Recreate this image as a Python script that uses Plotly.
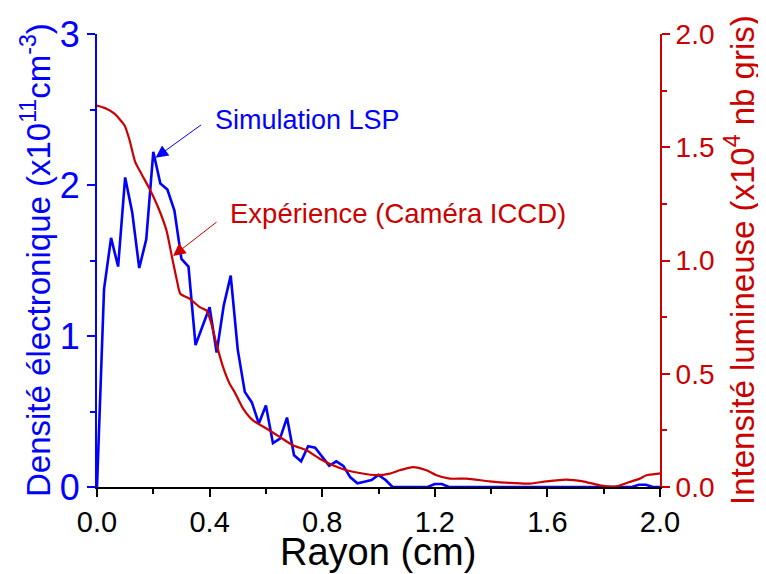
import plotly.graph_objects as go

# Blue: simulation LSP (left axis, x10^11 cm^-3)
sim_x = [0.0, 0.025, 0.05, 0.075, 0.1, 0.125, 0.15, 0.175, 0.2, 0.225, 0.25, 0.275,
         0.3, 0.325, 0.35, 0.375, 0.4, 0.425, 0.45, 0.475, 0.5, 0.525, 0.55, 0.575,
         0.6, 0.625, 0.65, 0.675, 0.7, 0.725, 0.75, 0.775, 0.8, 0.825, 0.85, 0.875,
         0.9, 0.925, 0.95, 0.975, 1.0, 1.025, 1.05, 1.175, 1.2, 1.225, 1.25,
         1.9, 1.925, 1.95, 1.975, 2.0]
sim_y = [0.0, 1.31, 1.65, 1.46, 2.05, 1.82, 1.45, 1.64, 2.22, 2.01, 1.97, 1.83,
         1.51, 1.46, 0.94, 1.06, 1.19, 0.89, 1.20, 1.40, 0.91, 0.63, 0.56, 0.42,
         0.54, 0.29, 0.32, 0.46, 0.21, 0.17, 0.27, 0.26, 0.20, 0.14, 0.17, 0.14,
         0.064, 0.025, 0.035, 0.046, 0.08, 0.046, 0.0, 0.0, 0.02, 0.02, 0.0,
         0.0, 0.015, 0.015, 0.0, 0.0]

# Red: experiment ICCD (right axis, x10^4 nb gris)
exp_x = [0.0, 0.03, 0.063, 0.098, 0.116, 0.136, 0.158, 0.187, 0.217, 0.247, 0.264,
         0.284, 0.296, 0.329, 0.365, 0.389, 0.403, 0.424, 0.448, 0.471, 0.489,
         0.519, 0.554, 0.602, 0.649, 0.696, 0.744, 0.791, 0.838, 0.886, 0.933,
         0.993, 1.04, 1.075, 1.123, 1.17, 1.206, 1.253, 1.312, 1.395, 1.466,
         1.537, 1.596, 1.667, 1.726, 1.786, 1.845, 1.892, 1.928, 1.952, 1.993, 2.0]
exp_y = [1.684, 1.672, 1.647, 1.596, 1.53, 1.434, 1.382, 1.316, 1.235, 1.132, 1.03,
         0.912, 0.853, 0.831, 0.794, 0.779, 0.735, 0.633, 0.529, 0.456, 0.419,
         0.346, 0.294, 0.258, 0.221, 0.184, 0.162, 0.125, 0.096, 0.074, 0.062,
         0.052, 0.059, 0.074, 0.088, 0.074, 0.052, 0.037, 0.037, 0.025, 0.018,
         0.015, 0.025, 0.033, 0.025, 0.0075, 0.003, 0.022, 0.037, 0.052, 0.059, 0.06]

x_ticks = [0.0, 0.4, 0.8, 1.2, 1.6, 2.0]
y1_ticks = [0, 1, 2, 3]
y2_ticks = [0.0, 0.5, 1.0, 1.5, 2.0]

BLUE = "#0000FF"
RED = "#CC0000"
FONT = "Arial, Liberation Sans, sans-serif"

fig = go.Figure()
fig.add_trace(go.Scatter(x=sim_x, y=sim_y, mode="lines", line=dict(color=BLUE, width=2.6),
                         yaxis="y", showlegend=False))
fig.add_trace(go.Scatter(x=exp_x, y=exp_y, mode="lines",
                         line=dict(color=RED, width=2.2, shape="spline", smoothing=0.6),
                         yaxis="y2", showlegend=False))

fig.update_layout(
    width=758, height=566,
    margin=dict(l=89, r=106, t=26, b=87, autoexpand=False),
    paper_bgcolor="white", plot_bgcolor="white",
    font=dict(family=FONT, color="black"),
    xaxis=dict(range=[0, 2.0], tickvals=x_ticks, tickformat=".1f",
               showgrid=False, zeroline=False, showline=True, linecolor="black", linewidth=2,
               ticks="outside", ticklen=8, tickwidth=1.5, tickcolor="black",
               minor=dict(ticks="outside", ticklen=5, dtick=0.2, tickcolor="black", tickwidth=1.5),
               tickfont=dict(size=29, color="black")),
    yaxis=dict(range=[0, 3], tickvals=y1_ticks, showgrid=False, zeroline=False,
               showline=True, linecolor=BLUE, linewidth=2,
               ticks="outside", ticklen=8, tickwidth=1.5, tickcolor=BLUE,
               minor=dict(ticks="outside", ticklen=5, dtick=0.5, tickcolor=BLUE, tickwidth=1.5),
               tickfont=dict(size=36, color=BLUE)),
    yaxis2=dict(range=[0, 2.0], tickvals=y2_ticks, tickformat=".1f", overlaying="y", side="right",
                showgrid=False, zeroline=False, showline=True, linecolor=RED, linewidth=2,
                ticks="outside", ticklen=8, tickwidth=1.5, tickcolor=RED,
                minor=dict(ticks="outside", ticklen=5, dtick=0.25, tickcolor=RED, tickwidth=1.5),
                tickfont=dict(size=28, color=RED)),
)

# axis titles as annotations (figure pixel -> paper coords)
W, H = 758, 566
def px(xp):
    return (xp - 89) / (W - 89 - 106)
def py(yp):
    return 1 - (yp - 26) / (H - 26 - 87)

fig.add_annotation(text="Rayon (cm)", xref="paper", yref="paper", x=px(370), y=py(544),
                   showarrow=False, xanchor="center", yanchor="middle",
                   font=dict(size=38, color="black"))
fig.add_annotation(text="Densité électronique (x10<sup>11</sup>cm<sup>-3</sup>)", xref="paper",
                   yref="paper", x=px(28), y=py(252), textangle=-90, showarrow=False,
                   xanchor="center", yanchor="middle", font=dict(size=33, color=BLUE))
fig.add_annotation(text="Intensité lumineuse (x10<sup>4</sup> nb gris)", xref="paper",
                   yref="paper", x=px(732), y=py(252), textangle=-90, showarrow=False,
                   xanchor="center", yanchor="middle", font=dict(size=33, color=RED))

# arrows
fig.add_annotation(x=0.208, y=2.18, xref="x", yref="y", text="", showarrow=True,
                   ax=47, ay=-34, arrowhead=2, arrowsize=2.5, arrowwidth=1, arrowcolor=BLUE)
fig.add_annotation(x=0.27, y=1.02, xref="x", yref="y2", text="", showarrow=True,
                   ax=45, ay=-35, arrowhead=2, arrowsize=2.5, arrowwidth=1, arrowcolor=RED)
# labels
fig.add_annotation(x=0.411, y=2.43, xref="x", yref="y", text="Simulation LSP", showarrow=False,
                   xanchor="left", yanchor="middle", font=dict(size=27, color=BLUE))
fig.add_annotation(x=0.464, y=1.81, xref="x", yref="y", text="Expérience (Caméra ICCD)",
                   showarrow=False, xanchor="left", yanchor="middle", font=dict(size=27.5, color=RED))

fig.write_html("out.html")
